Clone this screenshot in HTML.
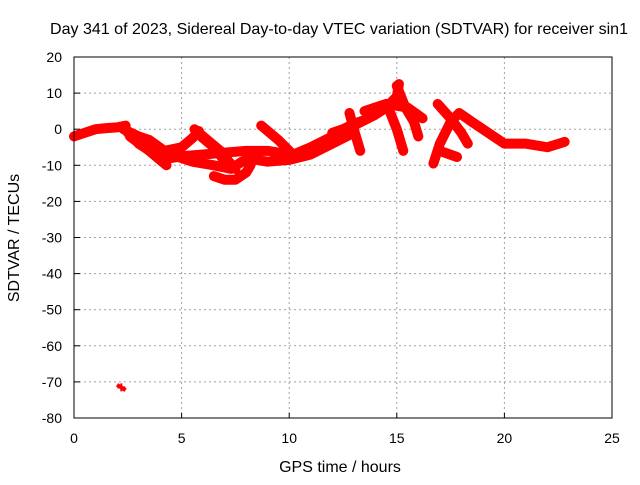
<!DOCTYPE html>
<html><head><meta charset="utf-8"><style>
body{margin:0;background:#fff}
svg text{font-family:"Liberation Sans",sans-serif;font-size:14px;fill:#000}
svg text.big{font-size:16px}
</style></head><body>
<svg id="c" width="640" height="480">
<rect width="640" height="480" fill="#fff"/>
<text class="big" x="339" y="34" text-anchor="middle" textLength="578" lengthAdjust="spacingAndGlyphs">Day 341 of 2023, Sidereal Day-to-day VTEC variation (SDTVAR) for receiver sin1</text>
<text class="big" x="340" y="472" text-anchor="middle">GPS time / hours</text>
<text class="big" transform="translate(19,238) rotate(-90)" text-anchor="middle">SDTVAR / TECUs</text>
<g id="grid"></g><g id="marks"></g>
<rect x="74" y="57" width="538" height="361" fill="none" stroke="#000"/>
</svg>
<script>
const xTicks=[0,5,10,15,20,25];
const yTicks=[20,10,0,-10,-20,-30,-40,-50,-60,-70,-80];
const track1=[[0,-2],[0.5,-1],[1,0],[1.5,0.3],[2,0.5],[2.4,1]];
const track2=[[2.3,0],[3,-2],[3.8,-5],[4.5,-7],[5.5,-9],[6.5,-10],[7.3,-11],[7.8,-9]];
const track3=[[2.5,-1],[3.5,-3],[4.2,-6],[5,-5],[5.5,-2.5],[5.8,-0.5]];
const track4=[[5.6,0],[6.2,-3],[6.8,-6],[7.2,-9],[7.5,-11]];
const track5=[[3,-4],[3.8,-7],[4.5,-8],[5,-7.5],[6,-7],[7,-6.5],[8,-6],[9,-6],[10,-7]];
const track6=[[5.9,-2],[6.5,-5],[6.9,-8],[7.2,-10]];
const track7=[[6.5,-13],[7,-14],[7.5,-14],[8,-12],[8.2,-10]];
const track8=[[2.6,-2],[3.5,-6],[4.3,-10]];
const track9=[[8.7,1],[9.5,-3],[10,-6],[10.3,-8]];
const track10=[[9.8,-8],[11,-5],[12,-2],[12.5,0],[13,1.5],[13.5,2.5]];
const track11=[[12,-1],[13,1],[14,4],[14.5,6],[15,9],[15.1,12.5]];
const track12=[[8,-8],[9,-9],[10,-8.5],[11,-7],[12,-4],[13,-1]];
const track13=[[12.8,4.5],[13,0],[13.3,-6]];
const track14=[[15,12],[15.4,6],[15.8,2],[16,-2]];
const track15=[[14.7,4.5],[15,0],[15.3,-6]];
const track16=[[13.5,5],[14.5,7],[15.5,6],[16.2,3]];
const track17=[[16.9,7],[17.5,3],[18,-1],[18.3,-4]];
const track18=[[16.7,-9.5],[17,-4],[17.5,2],[17.9,4.5],[18.5,2],[19,0],[19.5,-2],[20,-4],[21,-4],[22,-5],[22.8,-3.5]];
const track19=[[17,-6],[17.8,-7.7]];
const outlier=[[2.2,-71.5]];
const tracks=[track1,track2,track3,track4,track5,track6,track7,track8,track9,track10,track11,track12,track13,track14,track15,track16,track17,track18,track19,outlier];
const X=h=>74+538*h/25, Y=v=>57+361*(20-v)/100;
const NS='http://www.w3.org/2000/svg';
const g=document.getElementById('grid'), m=document.getElementById('marks');
function el(t,a,p){const e=document.createElementNS(NS,t);for(const k in a)e.setAttribute(k,a[k]);p.appendChild(e);return e;}
xTicks.forEach(t=>{
  if(t>0&&t<25){const l=el('line',{x1:X(t),x2:X(t),y1:57,y2:418,stroke:'#a0a0a0','stroke-dasharray':'2,3'},g);
  
  }
  const tk=el('line',{x1:X(t),x2:X(t),y1:418,y2:413,stroke:'#000'},g);
  
  
  const tx=el('text',{x:X(t),y:443,'text-anchor':'middle'},g);tx.textContent=t;
  
  
});
yTicks.forEach(t=>{
  if(t<20&&t>-80){const l=el('line',{x1:74,x2:612,y1:Y(t),y2:Y(t),stroke:'#a0a0a0','stroke-dasharray':'2,3'},g);
  
  }
  const tk=el('line',{x1:74,x2:80,y1:Y(t),y2:Y(t),stroke:'#000'},g);
  
  
  const tx=el('text',{x:62,y:Y(t)+5,'text-anchor':'end'},g);tx.textContent=t;
  
  
});
tracks.forEach((tr,i)=>{
  const pts=tr.map(p=>X(p[0])+','+Y(p[1])).join(' ');
  if(tr.length>1){const pl=el('polyline',{points:pts,fill:'none',stroke:'#f00','stroke-width':10,'stroke-linejoin':'round','stroke-linecap':'round'},m);
  
  }
  tr.forEach(p=>{const pa=el('path',{d:`M${X(p[0])-4},${Y(p[1])}h8M${X(p[0])},${Y(p[1])-4}v8`,stroke:'#f00','stroke-width':2},m);
  
  });
});
const o=el('path',{d:`M${X(2.0)},${Y(-70.8)}L${X(2.4)},${Y(-72.3)}`,stroke:'#f00','stroke-width':4},m);


</script>
</body></html>
